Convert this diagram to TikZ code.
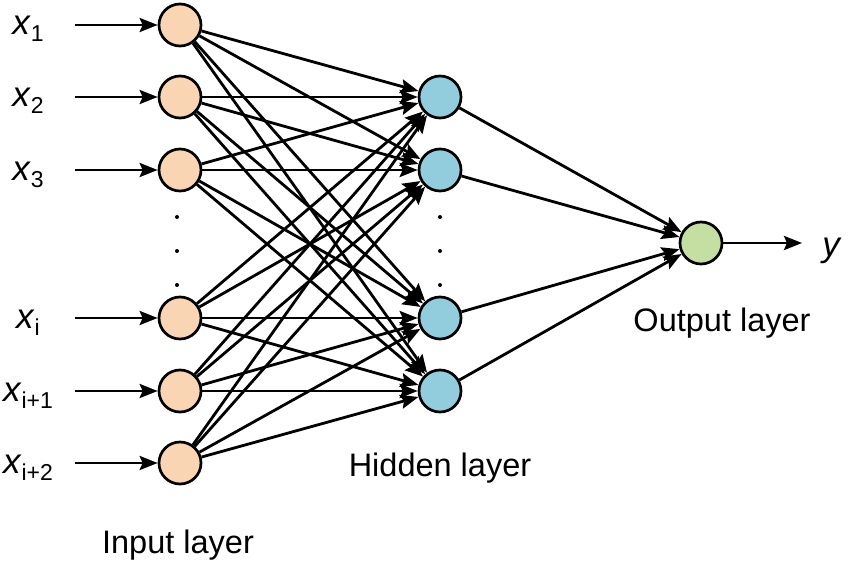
\documentclass[tikz,border=0pt]{standalone}
\usepackage{fontspec}
\setmainfont{Liberation Sans}
\usetikzlibrary{arrows.meta}
\definecolor{inC}{RGB}{250,213,180}
\definecolor{hidC}{RGB}{146,205,221}
\definecolor{outC}{RGB}{197,222,162}
\newcommand{\sbs}[1]{{\fontsize{23}{23}\selectfont\raisebox{-7pt}{#1}}}
\begin{document}
\begin{tikzpicture}[x=1pt,y=-1pt,
  neuron/.style={circle,draw=black,line width=2.7pt,minimum size=42pt,inner sep=0pt},
  conn/.style={line width=2.8pt,-{Stealth[length=18pt,width=14pt,inset=3pt]}},
  lbl/.style={font=\fontsize{32.5}{32.5}\selectfont},
  vlbl/.style={font=\fontsize{35}{35}\selectfont,anchor=base},
  dotc/.style={circle,fill=black,minimum size=4pt,inner sep=0pt}]
\useasboundingbox (0,0) rectangle (850,564);
% input layer
\foreach \n/\y in {1/25,2/97,3/170,4/318,5/391,6/463}{
  \node[neuron,fill=inC] (i\n) at (180,\y) {};
  \coordinate (s\n) at (75,\y);
}
\foreach \n/\y in {1/97,2/170,3/318,4/391}{
  \node[neuron,fill=hidC] (h\n) at (440,\y) {};
}
\node[neuron,fill=outC] (o) at (701,243) {};
\coordinate (oe) at (802,243);
% dots
\foreach \y [count=\k] in {217,251,285}{
  \node[dotc] (di\k) at (177,\y) {};
  \node[dotc] (dh\k) at (440,\y) {};
}
% labels
\node[vlbl] (l1) at (28,35) {\textit{x}\sbs{1}};
\node[vlbl] (l2) at (28,107) {\textit{x}\sbs{2}};
\node[vlbl] (l3) at (28,180) {\textit{x}\sbs{3}};
\node[vlbl] (l4) at (28,328) {\textit{x}\sbs{i}};
\node[vlbl] (l5) at (28,401) {\textit{x}\sbs{i+1}};
\node[vlbl] (l6) at (28,473) {\textit{x}\sbs{i+2}};
\node[vlbl] (ly) at (832,256) {\textit{y}};
\node[lbl,anchor=base] (tin) at (178,553) {Input layer};
\node[lbl,anchor=base] (thid) at (440,476) {Hidden layer};
\node[lbl,anchor=base] (tout) at (722,331) {Output layer};
% connections
\foreach \n in {1,...,6}{
  \draw[conn] (s\n) -- (i\n);
  \foreach \m in {1,...,4}{
    \draw[conn] (i\n) -- (h\m);
  }
}
\foreach \m in {1,...,4}{
  \draw[conn] (h\m) -- (o);
}
\draw[conn] (o) -- (oe);
\end{tikzpicture}
\end{document}
